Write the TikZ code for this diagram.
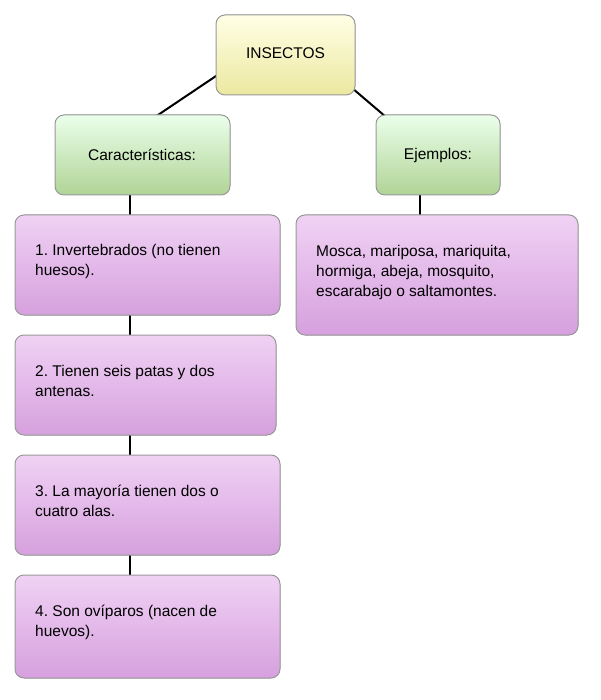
\documentclass[tikz,border=0pt]{standalone}
\usepackage{fontspec}
\setmainfont{Liberation Sans}
\frenchspacing
\begin{document}
\begin{tikzpicture}[x=1pt,y=-1pt,
  box/.style={draw=gray!80,line width=1pt,rounded corners=9pt},
  yel/.style={top color=yellow!10!white,bottom color={rgb,255:red,236;green,232;blue,160}},
  grn/.style={top color=green!8!white,bottom color={rgb,255:red,176;green,212;blue,150}},
  pur/.style={top color={rgb,255:red,240;green,210;blue,244},bottom color={rgb,255:red,214;green,160;blue,222}},
  txt/.style={font=\fontsize{15.5}{20}\selectfont},
  lab/.style={txt,align=left,anchor=north west,inner sep=0pt},
  con/.style={line width=2pt}]
\useasboundingbox (0,0) rectangle (600,700);
\coordinate (ins1) at (222,72); \coordinate (ins2) at (352,88);
\coordinate (car1) at (155,117); \coordinate (ej1) at (386,117);
\draw[con] (ins1) -- (car1);
\draw[con] (ins2) -- (ej1);
\draw[con] (130,190) -- (130,580);
\draw[con] (420,190) -- (420,220);
\filldraw[box,yel] (216,15) rectangle (355,95);
\node[txt] (ins) at (285.5,53) {INSECTOS};
\filldraw[box,grn] (55,115) rectangle (230,195);
\node[txt] (car) at (142,155) {Características:};
\filldraw[box,grn] (376,115) rectangle (500,195);
\node[txt] (ej) at (438,155) {Ejemplos:};
\filldraw[box,pur] (15,215) rectangle (280,315);
\node[lab] (b1) at (35,244) {1. Invertebrados (no tienen\\huesos).};
\filldraw[box,pur] (15,335) rectangle (276,435);
\node[lab] (b2) at (35,365) {2. Tienen seis patas y dos\\antenas.};
\filldraw[box,pur] (15,455) rectangle (280,555);
\node[lab] (b3) at (35,485) {3. La mayoría tienen dos o\\cuatro alas.};
\filldraw[box,pur] (15,575) rectangle (280,678);
\node[lab] (b4) at (35,605) {4. Son ovíparos (nacen de\\huevos).};
\filldraw[box,pur] (296,215) rectangle (578,335);
\node[lab] (e1) at (316,245) {Mosca, mariposa, mariquita,\\hormiga, abeja, mosquito,\\escarabajo o saltamontes.};
\end{tikzpicture}
\end{document}
